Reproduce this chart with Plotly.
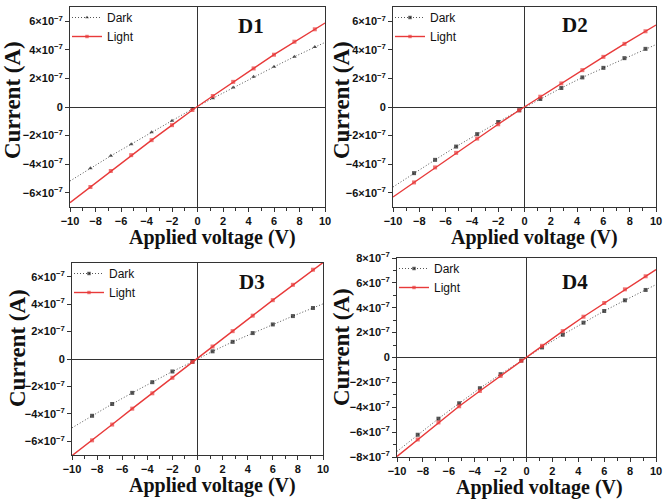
import plotly.graph_objects as go

W, H = 668, 501

voltage = [-10, -8.4, -6.8, -5.2, -3.6, -2.0, -0.4, 1.2, 2.8, 4.4, 6.0, 7.6, 9.2, 10]
marker_sizes = [0, 4, 4, 4, 4, 4, 4, 4, 4, 4, 4, 4, 4, 0]

# currents in units of 1e-7 A
d1_dark = [-5.18, -4.29, -3.42, -2.60, -1.76, -0.96, -0.14, 0.61, 1.36, 2.11, 2.81, 3.52, 4.20, 4.52]
d1_light = [-6.70, -5.60, -4.48, -3.37, -2.32, -1.27, -0.21, 0.77, 1.76, 2.70, 3.66, 4.57, 5.44, 5.88]
d2_dark = [-5.60, -4.63, -3.70, -2.77, -1.90, -1.05, -0.23, 0.56, 1.33, 2.07, 2.74, 3.42, 4.07, 4.37]
d2_light = [-6.30, -5.28, -4.23, -3.21, -2.21, -1.21, -0.23, 0.72, 1.65, 2.58, 3.51, 4.42, 5.30, 5.74]
d3_dark = [-5.02, -4.14, -3.28, -2.47, -1.69, -0.91, -0.20, 0.56, 1.25, 1.89, 2.52, 3.13, 3.72, 4.02]
d3_light = [-7.05, -5.93, -4.78, -3.62, -2.50, -1.37, -0.22, 0.91, 2.03, 3.16, 4.29, 5.41, 6.51, 7.03]
d4_dark = [-7.55, -6.21, -4.92, -3.68, -2.47, -1.34, -0.24, 0.81, 1.83, 2.80, 3.74, 4.60, 5.43, 5.86]
d4_light = [-7.96, -6.59, -5.22, -3.92, -2.69, -1.48, -0.27, 0.94, 2.12, 3.28, 4.38, 5.48, 6.53, 7.07]

panel_labels = ["D1", "D2", "D3", "D4"]
series_names = ["Dark", "Light"]
x_ticks = [-10, -8, -6, -4, -2, 0, 2, 4, 6, 8, 10]
y_ticks_small = [-6, -4, -2, 0, 2, 4, 6]
y_ticks_big = [-8, -6, -4, -2, 0, 2, 4, 6, 8]

def tick_text(v):
    if v == 0:
        return "<b>0</b>"
    s = "−" if v < 0 else ""
    return f"<b>{s}{abs(v)}×10<sup>−7</sup></b>"

def xtick_text(t):
    return "<b>" + (("−" + str(-t)) if t < 0 else str(t)) + "</b>"

# pixel boxes for plot areas: (x0, x1, ytop, ybottom)
boxes = [(70, 325, 7, 207), (393, 656, 7, 207), (72, 323, 263, 455), (397, 656, 258, 457)]
yranges = [(-7, 7), (-7, 7), (-7, 7), (-8, 8)]
ytick_sets = [y_ticks_small, y_ticks_small, y_ticks_small, y_ticks_big]
data = [(d1_dark, d1_light), (d2_dark, d2_light), (d3_dark, d3_light), (d4_dark, d4_light)]
dark_symbols = ["triangle-up", "square", "square", "square"]
label_pos = [(251, 26), (575, 25), (252, 282), (575, 282)]
ytitle_pos = [(13, 100), (342, 100), (17, 348), (341, 347)]
xtitle_pos = [(212, 237), (534, 237), (212, 485), (539, 487)]

RED = "#e83a3a"
AX = "#333333"
fig = go.Figure()
annotations = []
layout = {}
for i in range(4):
    x0, x1, yt, yb = boxes[i]
    n = "" if i == 0 else str(i + 1)
    xa, ya = "x" + n, "y" + n
    leg = "legend" if i == 0 else f"legend{i+1}"
    dark, light = data[i]
    fig.add_trace(go.Scatter(
        x=voltage, y=[v * 1e-7 for v in dark], name=series_names[0], mode="lines+markers",
        line=dict(color="#555555", width=1, dash="1px,2px"),
        marker=dict(symbol=dark_symbols[i], size=marker_sizes, color="#111111", line=dict(width=0)),
        xaxis=xa, yaxis=ya, legend=leg))
    fig.add_trace(go.Scatter(
        x=voltage, y=[v * 1e-7 for v in light], name=series_names[1], mode="lines+markers",
        line=dict(color=RED, width=1.4),
        marker=dict(symbol="square", size=marker_sizes, color=RED, line=dict(width=0)),
        xaxis=xa, yaxis=ya, legend=leg))
    yr = yranges[i]
    yt_vals = ytick_sets[i]
    minor_vals = [v * 1e-7 for v in range(yr[0] + 1, yr[1], 2)]
    layout["xaxis" + n] = dict(
        domain=[x0 / W, x1 / W], anchor=ya, range=[-10, 10], automargin=False,
        tickvals=x_ticks, ticktext=[xtick_text(t) for t in x_ticks],
        ticks="outside", ticklen=4, tickwidth=1, tickcolor=AX,
        minor=dict(tickvals=[-9, -7, -5, -3, -1, 1, 3, 5, 7, 9], ticks="outside", ticklen=3, tickcolor=AX),
        showline=True, linecolor=AX, linewidth=1, mirror=True, showgrid=False,
        zeroline=True, zerolinecolor=AX, zerolinewidth=1,
        tickfont=dict(family="Arial", size=11, color="#111"))
    layout["yaxis" + n] = dict(
        domain=[1 - yb / H, 1 - yt / H], anchor=xa, range=[yr[0] * 1e-7, yr[1] * 1e-7], automargin=False,
        tickvals=[v * 1e-7 for v in yt_vals], ticktext=[tick_text(v) for v in yt_vals],
        ticks="outside", ticklen=4, tickwidth=1, tickcolor=AX,
        minor=dict(tickvals=minor_vals, ticks="outside", ticklen=3, tickcolor=AX),
        showline=True, linecolor=AX, linewidth=1, mirror=True, showgrid=False,
        zeroline=True, zerolinecolor=AX, zerolinewidth=1,
        tickfont=dict(family="Arial", size=11, color="#111"))
    layout[leg] = dict(
        x=(x0 - 3) / W, y=1 - (yt - 4) / H, xanchor="left", yanchor="top",
        bgcolor="rgba(0,0,0,0)", borderwidth=0, tracegroupgap=0,
        font=dict(family="Arial", size=12, color="#111"), itemwidth=30)
    lx, ly = label_pos[i]
    annotations.append(dict(text=f"<b>{panel_labels[i]}</b>", x=lx / W, y=1 - ly / H,
                            xref="paper", yref="paper", showarrow=False,
                            xanchor="center", yanchor="middle",
                            font=dict(family="Liberation Serif", size=21, color="#111")))
    tx, ty = ytitle_pos[i]
    annotations.append(dict(text="<b>Current (A)</b>", x=tx / W, y=1 - ty / H,
                            xref="paper", yref="paper", showarrow=False, textangle=-90,
                            xanchor="center", yanchor="middle",
                            font=dict(family="Liberation Serif", size=23, color="#111")))
    tx, ty = xtitle_pos[i]
    annotations.append(dict(text="<b>Applied voltage (V)</b>", x=tx / W, y=1 - ty / H,
                            xref="paper", yref="paper", showarrow=False,
                            xanchor="center", yanchor="middle",
                            font=dict(family="Liberation Serif", size=20, color="#111")))

fig.update_layout(
    width=W, height=H, margin=dict(l=0, r=0, t=0, b=0, autoexpand=False),
    paper_bgcolor="white", plot_bgcolor="white",
    annotations=annotations, **layout)

fig.write_html("out.html")
